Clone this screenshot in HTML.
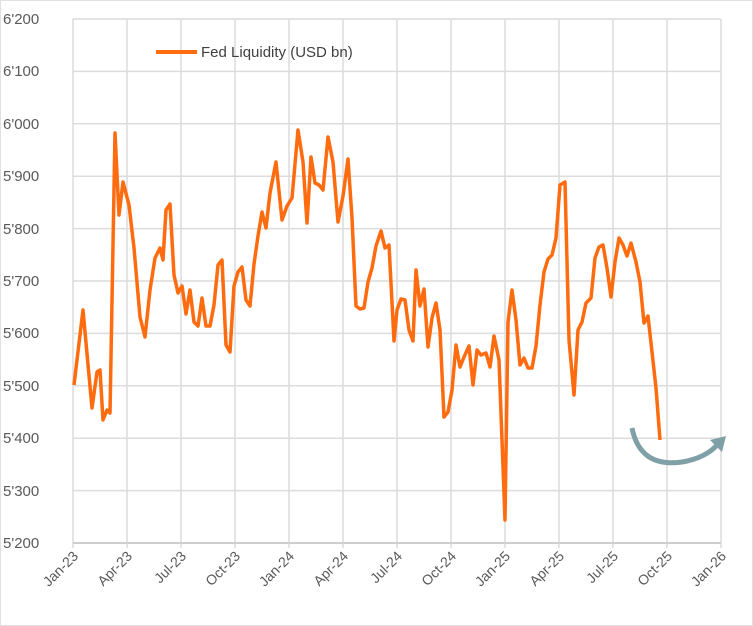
<!DOCTYPE html>
<html><head><meta charset="utf-8"><style>
body{margin:0;background:#fff}
svg{display:block;font-family:"Liberation Sans",sans-serif}
</style></head><body>
<svg width="753" height="626" viewBox="0 0 753 626">
<rect x="0.5" y="0.5" width="752" height="625" fill="#fff" stroke="#e0e0e0"/>
<g stroke="#dcdcdc" stroke-width="1.5">
<line x1="73" y1="19" x2="721" y2="19"/><line x1="73" y1="71.4" x2="721" y2="71.4"/><line x1="73" y1="123.8" x2="721" y2="123.8"/><line x1="73" y1="176.2" x2="721" y2="176.2"/><line x1="73" y1="228.6" x2="721" y2="228.6"/><line x1="73" y1="281" x2="721" y2="281"/><line x1="73" y1="333.4" x2="721" y2="333.4"/><line x1="73" y1="385.8" x2="721" y2="385.8"/><line x1="73" y1="438.2" x2="721" y2="438.2"/><line x1="73" y1="490.6" x2="721" y2="490.6"/>
<line x1="73" y1="19" x2="73" y2="548"/><line x1="127" y1="19" x2="127" y2="548"/><line x1="181" y1="19" x2="181" y2="548"/><line x1="235" y1="19" x2="235" y2="548"/><line x1="289" y1="19" x2="289" y2="548"/><line x1="343" y1="19" x2="343" y2="548"/><line x1="397" y1="19" x2="397" y2="548"/><line x1="451" y1="19" x2="451" y2="548"/><line x1="505" y1="19" x2="505" y2="548"/><line x1="559" y1="19" x2="559" y2="548"/><line x1="613" y1="19" x2="613" y2="548"/><line x1="667" y1="19" x2="667" y2="548"/><line x1="721" y1="19" x2="721" y2="548"/>
</g>
<line x1="73" y1="543" x2="721" y2="543" stroke="#cfcfcf" stroke-width="2"/>
<g fill="#595959" font-size="15" text-anchor="start">
<text x="3" y="24">6'200</text><text x="3" y="76">6'100</text><text x="3" y="129">6'000</text><text x="3" y="181">5'900</text><text x="3" y="234">5'800</text><text x="3" y="286">5'700</text><text x="3" y="338">5'600</text><text x="3" y="391">5'500</text><text x="3" y="443">5'400</text><text x="3" y="496">5'300</text><text x="3" y="548">5'200</text>
</g>
<g fill="#595959" font-size="14" text-anchor="end">
<text transform="translate(79,557) rotate(-45)">Jan-23</text>
<text transform="translate(133,557) rotate(-45)">Apr-23</text>
<text transform="translate(187,557) rotate(-45)">Jul-23</text>
<text transform="translate(241,557) rotate(-45)">Oct-23</text>
<text transform="translate(295,557) rotate(-45)">Jan-24</text>
<text transform="translate(349,557) rotate(-45)">Apr-24</text>
<text transform="translate(403,557) rotate(-45)">Jul-24</text>
<text transform="translate(457,557) rotate(-45)">Oct-24</text>
<text transform="translate(511,557) rotate(-45)">Jan-25</text>
<text transform="translate(565,557) rotate(-45)">Apr-25</text>
<text transform="translate(619,557) rotate(-45)">Jul-25</text>
<text transform="translate(673,557) rotate(-45)">Oct-25</text>
<text transform="translate(727,557) rotate(-45)">Jan-26</text>
</g>
<line x1="156" y1="52" x2="197" y2="52" stroke="#ff6b0f" stroke-width="4"/>
<text x="201" y="57" font-size="15" fill="#404040">Fed Liquidity (USD bn)</text>
<polyline fill="none" stroke="#ff6b0f" stroke-width="3.5" stroke-linejoin="round" points="74,385 83,310 92,408 97,372 100,370 103,420 107,410 110,413 115,133 119,215 123,182 129,205 134,248 140,317 145,337 150,290 155,258 160,248 163,260 166,210 170,204 174,275 178,293 182,286 186,314 190,290 194,322 198,326 202,298 206,326 210,326 214,305 218,265 222,260 226,345 230,352 234,286 238,272 242,267 246,300 250,306 254,264 258,236 262,212 266,228 270,193 276,162 282,220 287,206 292,198 298,130 303,162 307,223 311,157 315,183 319,185 323,190 328,137 333,162 338,222 343,196 348,159 352,218 356,306 360,309 364,308 368,282 372,268 376,246 381,231 385,248 389,245 394,341 397,310 401,299 405,300 409,330 413,341 416,270 420,306 424,289 428,347 432,318 436,303 440,330 444,417 448,412 452,390 456,345 460,367 464,357 469,346 473,385 477,350 481,355 486,353 490,367 494,336 499,360 505,520 508,322 512,290 516,320 520,365 524,358 528,368 532,368 536,346 540,305 544,272 548,259 552,255 556,238 560,185 565,182 569,340 574,395 578,330 582,322 586,303 591,298 595,258 599,247 603,245 607,268 611,297 615,262 619,238 623,245 627,256 631,243 636,262 640,282 644,323 648,316 652,352 656,388 660,440"/>
<path d="M632,428 Q640,468 682,462 Q706,458 718,444" fill="none" stroke="#7fa0a6" stroke-width="5"/>
<polygon points="726,436 710,440 722,452" fill="#7fa0a6"/>
</svg>
</body></html>
